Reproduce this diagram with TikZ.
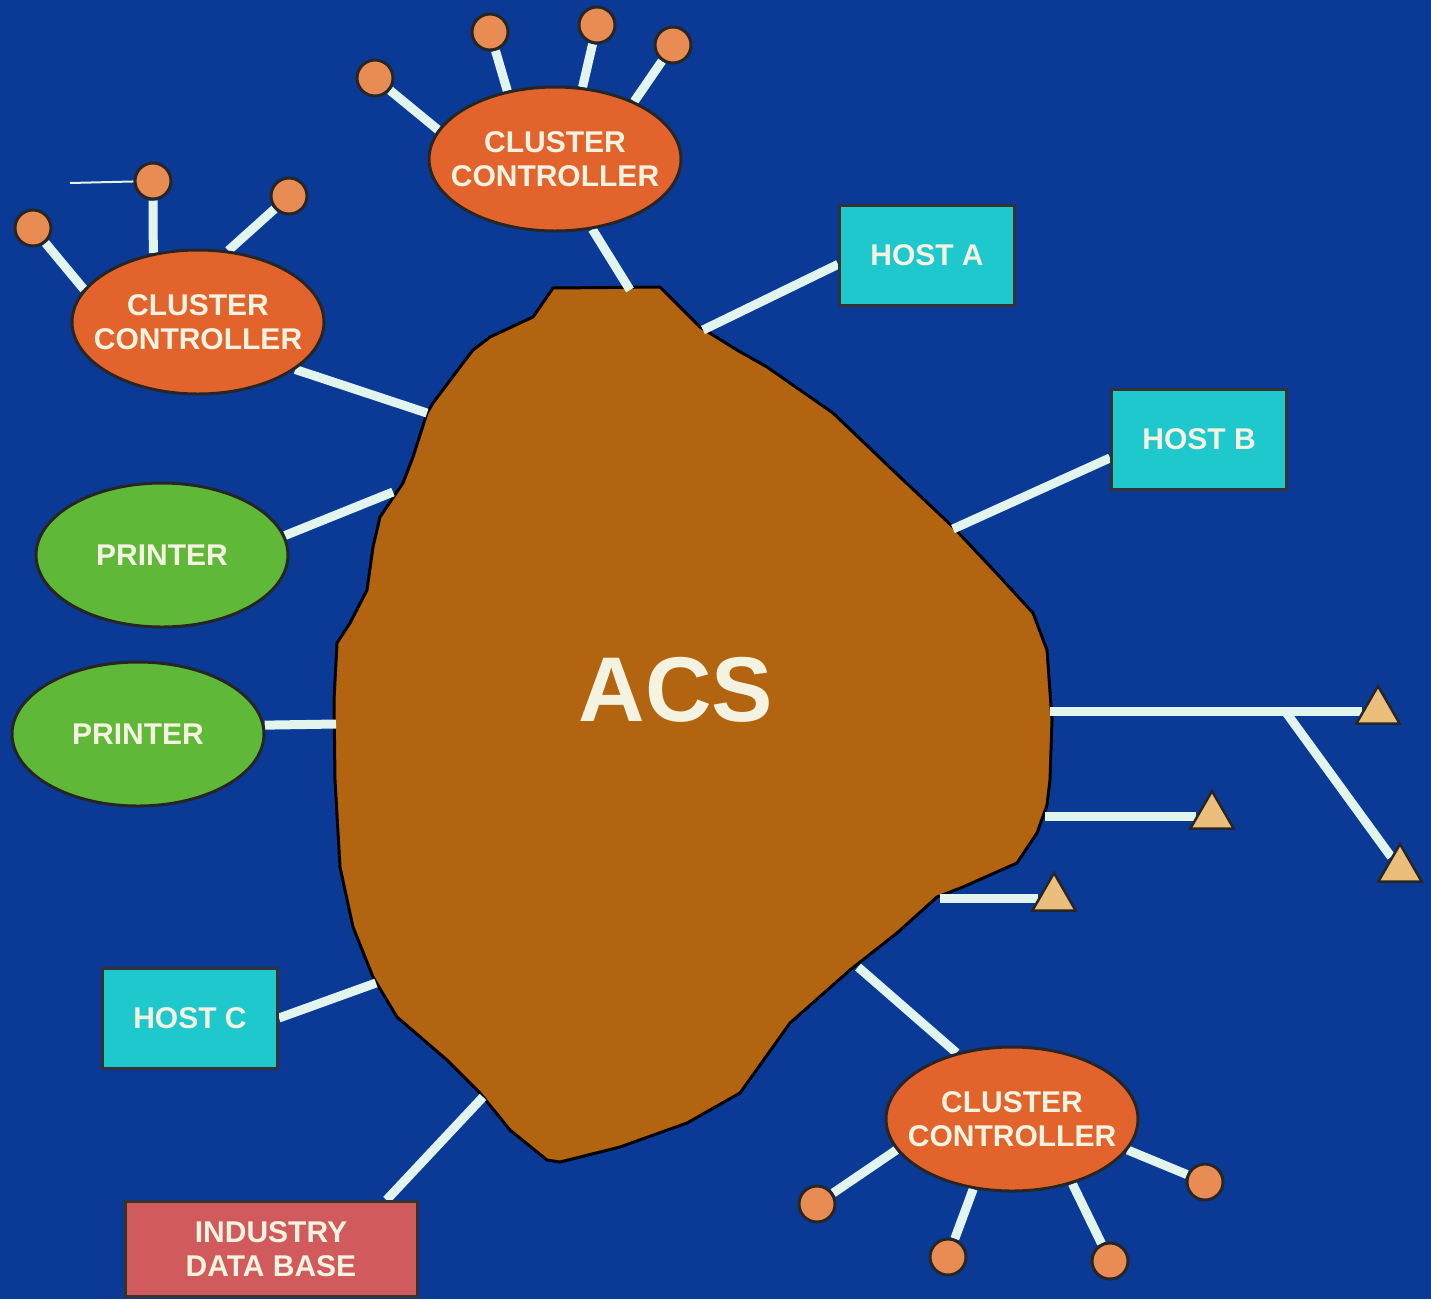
\documentclass[tikz,border=0pt]{standalone}
\usepackage{fontspec}
\setmainfont{Liberation Sans}
\usetikzlibrary{shapes.geometric,backgrounds}

\definecolor{bgblue}{RGB}{10,58,150}
\definecolor{acsbrown}{RGB}{178,100,16}
\definecolor{ccorange}{RGB}{226,100,44}
\definecolor{termorange}{RGB}{232,140,84}
\definecolor{prgreen}{RGB}{96,184,56}
\definecolor{hostcyan}{RGB}{30,200,204}
\definecolor{dbred}{RGB}{208,90,92}
\definecolor{trisand}{RGB}{236,190,124}
\definecolor{linkwhite}{RGB}{226,244,238}
\definecolor{labelwhite}{RGB}{244,242,224}

\tikzset{
  lbl/.style={text=labelwhite, font=\bfseries\fontsize{30}{34}\selectfont, align=center},
  ctrl/.style={ellipse, draw=black!85, line width=3pt, fill=ccorange,
    minimum width=252pt, minimum height=144pt, inner sep=0pt,
    label={[lbl, inner sep=0pt]center:CLUSTER\\CONTROLLER}},
  printer/.style={ellipse, draw=black!85, line width=3pt, fill=prgreen,
    minimum width=252pt, minimum height=144pt, inner sep=0pt, lbl},
  hostbox/.style={rectangle, draw=black!80, line width=3pt, fill=hostcyan,
    minimum width=175pt, minimum height=100pt, inner sep=0pt, lbl},
  dbbox/.style={rectangle, draw=black!80, line width=3pt, fill=dbred,
    minimum width=292pt, minimum height=95pt, inner sep=0pt, lbl},
  term/.style={circle, draw=black!85, line width=3pt, fill=termorange,
    minimum size=36pt, inner sep=0pt},
  tri/.style={regular polygon, regular polygon sides=3, draw=black!85,
    line width=2.5pt, fill=trisand, minimum size=50pt, inner sep=0pt},
  link/.style={draw=linkwhite, line width=9pt},
  thinlink/.style={draw=linkwhite, line width=2pt},
}

\begin{document}
\begin{tikzpicture}[x=1pt, y=-1pt]
\useasboundingbox (0,0) rectangle (1431,1299);

% ---- devices ----
\node[ctrl] (cc1) at (555,159) {};
\node[ctrl] (cc2) at (198,322) {};
\node[ctrl] (cc3) at (1012,1119) {};
\node[printer] (p1) at (162,555) {PRINTER};
\node[printer] (p2) at (138,734) {PRINTER};
\node[hostbox] (hostA) at (927,255) {HOST A};
\node[hostbox] (hostB) at (1199,439) {HOST B};
\node[hostbox] (hostC) at (190,1018) {HOST C};
\node[dbbox] (idb) at (271,1249) {INDUSTRY\\DATA BASE};

% terminals on the controllers
\node[term] (t11) at (375,78) {};
\node[term] (t12) at (490,32) {};
\node[term] (t13) at (597,25) {};
\node[term] (t14) at (673,45) {};
\node[term] (t21) at (33,228) {};
\node[term] (t22) at (153,181) {};
\node[term] (t23) at (289,196) {};
\node[term] (t31) at (817,1204) {};
\node[term] (t32) at (948,1257) {};
\node[term] (t33) at (1110,1261) {};
\node[term] (t34) at (1205,1182) {};

% remote stations
\node[tri] (r1) at (1378,711) {};
\node[tri] (r2) at (1400,869) {};
\node[tri] (r3) at (1212,816) {};
\node[tri] (r4) at (1054,898) {};

% attachment points on the network cloud
\coordinate (aCC1) at (630,290);
\coordinate (aHA) at (703,330);
\coordinate (aHB) at (953,529);
\coordinate (aR1) at (1050,711);
\coordinate (aR3) at (1045,816);
\coordinate (aR4) at (940,898);
\coordinate (aCC3) at (858,967);
\coordinate (aDB) at (483,1097);
\coordinate (aHC) at (376,983);
\coordinate (aP2) at (336,724);
\coordinate (aP1) at (393,492);
\coordinate (aCC2) at (427,413);
\coordinate (junc) at (1285,711);
\coordinate (stray) at (70,183);

\begin{scope}[on background layer]
  \fill[bgblue] (0,0) rectangle (1431,1299);
  % network cloud
  \path[draw=black, line width=3pt, fill=acsbrown, line join=round]
    (553,288) -- (660,287) -- (673,300) -- (700,327) -- (737,350) -- (767,367)
    -- (833,413) -- (900,477) -- (953,527) -- (1000,577) -- (1033,613)
    -- (1047,650) -- (1052,720) -- (1050,780) -- (1047,805) -- (1037,833)
    -- (1017,863) -- (963,887) -- (937,897) -- (897,933) -- (850,970)
    -- (790,1023) -- (740,1093) -- (687,1123) -- (620,1147) -- (560,1162)
    -- (547,1160) -- (510,1130) -- (480,1093) -- (447,1060) -- (397,1017)
    -- (373,977) -- (353,927) -- (340,867) -- (335,780) -- (334,700)
    -- (337,643) -- (350,623) -- (367,590) -- (373,547) -- (380,517)
    -- (403,483) -- (413,457) -- (427,413) -- (433,403) -- (460,367)
    -- (473,350) -- (490,337) -- (520,323) -- (533,317) -- cycle;

  % links from the cloud
  \draw[link] (aCC1) -- (cc1.298);
  \draw[link] (aHA) -- (hostA.186);
  \draw[link] (aHB) -- (hostB.192);
  \draw[link] (aR1) -- (r1);
  \draw[link] (junc) -- (r2);
  \draw[link] (aR3) -- (r3);
  \draw[link] (aR4) -- (r4);
  \draw[link] (aCC3) -- (cc3.130);
  \draw[link] (aDB) -- (idb.23);
  \draw[link] (aHC) -- (hostC.east);
  \draw[link] (aP2) -- (p2.4);
  \draw[link] (aP1) -- (p1.9);
  \draw[link] (aCC2) -- (cc2.334);

  % terminal links
  \draw[link] (cc1.166) -- (t11);
  \draw[link] (cc1.125) -- (t12);
  \draw[link] (cc1.69) -- (t13);
  \draw[link] (cc1.36) -- (t14);
  \draw[link] (cc2.164) -- (t21);
  \draw[link] (cc2.123) -- (t22);
  \draw[link] (cc2.67) -- (t23);
  \draw[link] (cc3.195) -- (t31);
  \draw[link] (cc3.241) -- (t32);
  \draw[link] (cc3.313) -- (t33);
  \draw[link] (cc3.345) -- (t34);
  \draw[thinlink] (stray) -- (t22);
\end{scope}

\node[text=labelwhite, font=\bfseries\fontsize{92}{92}\selectfont] (acs) at (676,690) {ACS};
\end{tikzpicture}
\end{document}
